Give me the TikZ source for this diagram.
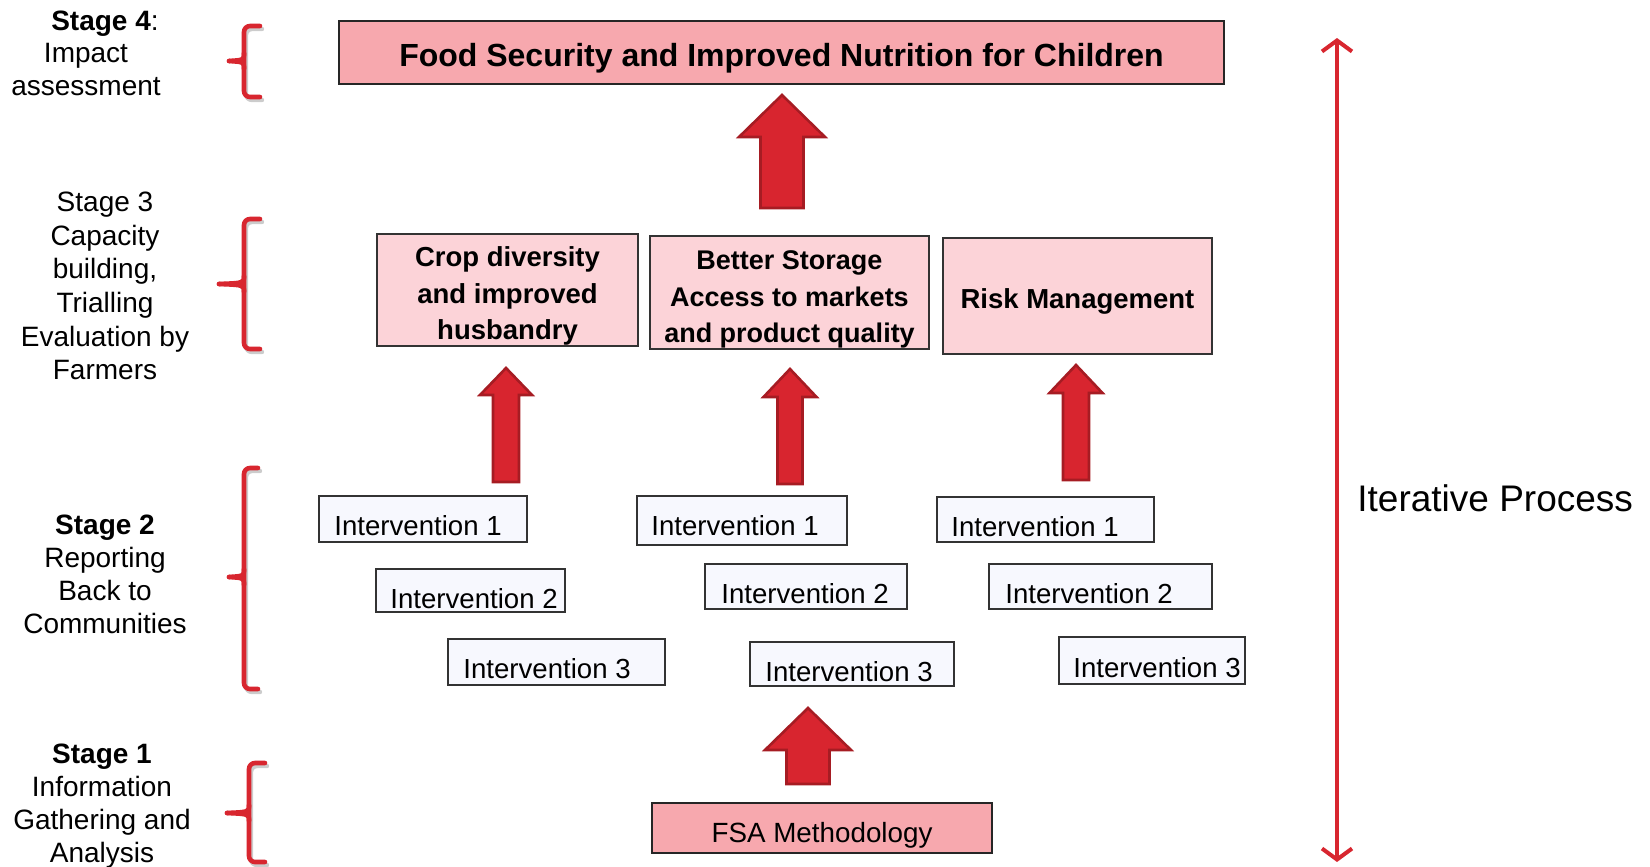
\documentclass[tikz,border=0pt]{standalone}
\usepackage{fontspec}
\setmainfont{Liberation Sans}
\usetikzlibrary{arrows.meta,calc,fit}

\definecolor{titlepink}{HTML}{F7A8AE}
\definecolor{lightpink}{HTML}{FCD3D8}
\definecolor{intfill}{HTML}{F7F8FE}
\definecolor{arrowred}{HTML}{D8252F}
\definecolor{arrowdark}{HTML}{A61C23}
\definecolor{bracered}{HTML}{D8262F}

\tikzset{
  stagelbl/.style={align=center, inner sep=0pt, font=\fontsize{14pt}{16.5pt}\selectfont},
  goalbox/.style={draw=black!85, line width=0.8pt, fill=titlepink, inner sep=0pt},
  fsabox/.style={draw=black!85, line width=0.8pt, fill=titlepink, inner sep=0pt},
  outcomebox/.style={draw=black!80, line width=0.7pt, fill=lightpink, inner sep=0pt},
  intbox/.style={draw=black!80, line width=0.6pt, fill=intfill, inner sep=0pt},
  inttext/.style={inner sep=0pt, anchor=base west, font=\fontsize{13.8pt}{16pt}\selectfont},
  outcometext/.style={align=center, inner sep=0pt, font=\bfseries\fontsize{13.75pt}{18.4pt}\selectfont},
  bracestyle/.style={draw=bracered, line width=2.3pt, line cap=round, line join=round, rounded corners=3pt},
  braceshadow/.style={draw=black!20, line width=2.2pt, line cap=round, line join=round, rounded corners=3pt},
  blockarrow/.style={fill=arrowred, draw=arrowdark, line width=1.3pt, line join=miter},
  iterline/.style={draw=bracered, line width=2pt,
    {Straight Barb[length=5.5pt,width=15pt,line width=2pt]}-{Straight Barb[length=5.5pt,width=15pt,line width=2pt]}}
}

% curly stage bracket: left tip x, spine x, serif x, top y, tip y, bottom y
\newcommand\stagebrace[6]{%
  \draw[braceshadow] (#3+2,#4+3) -- (#2+2,#4+3) -- (#2+2,#6+3) -- (#3+2,#6+3);
  \draw[bracestyle] (#3,#4) -- (#2,#4) -- (#2,#6) -- (#3,#6);
  \draw[bracestyle, rounded corners=0pt] (#2,#5-8) .. controls (#2,#5-1) .. (#1,#5);
  \draw[bracestyle, rounded corners=0pt] (#2,#5+8) .. controls (#2,#5+1) .. (#1,#5);
}
% upward block arrow: centre x, tip y, head base y, head half width, shaft half width, bottom y
\newcommand\blockup[6]{%
  \draw[blockarrow] (#1,#2) -- (#1+#4,#3) -- (#1+#5,#3) -- (#1+#5,#6)
    -- (#1-#5,#6) -- (#1-#5,#3) -- (#1-#4,#3) -- cycle;
}

\begin{document}
\begin{tikzpicture}[x=0.5pt, y=-0.5pt]
\useasboundingbox (0,0) rectangle (1650,867);

% stage labels
\node[stagelbl, font=\fontsize{14pt}{16.25pt}\selectfont] (s4) at (86,53)
  {\hspace*{19pt}\textbf{Stage 4}:\\Impact\\assessment};
\node[stagelbl, font=\fontsize{14pt}{16.8pt}\selectfont] (s3) at (105,286)
  {Stage 3\\Capacity\\building,\\Trialling\\Evaluation by\\Farmers};
\node[stagelbl] (s2) at (105,574)
  {\textbf{Stage 2}\\Reporting\\Back to\\Communities};
\node[stagelbl] (s1) at (102,806)
  {\textbf{Stage 1}\\Information\\Gathering and\\Analysis};

% brackets
\stagebrace{229}{244}{260}{26}{61}{97}
\stagebrace{219}{244}{260}{219}{284}{349}
\stagebrace{229}{244}{258}{468}{577}{689}
\stagebrace{227}{249}{265}{763}{813}{862}

% goal
\node[goalbox, fit={(339,21) (1224,84)}] (goal) {};
\node[inner sep=0pt, font=\bfseries\fontsize{16pt}{19pt}\selectfont] (goaltext) at ($(goal.center)+(0,6)$)
  {Food Security and Improved Nutrition for Children};

% outcomes
\node[outcomebox, fit={(377,234) (638,346)}] (crop) {};
\node[outcometext] (croptext) at ($(crop.center)+(0,6)$) {Crop diversity\\and improved\\husbandry};
\node[outcomebox, fit={(650,236) (929,349)}] (store) {};
\node[outcometext, font=\bfseries\fontsize{13.5pt}{18.2pt}\selectfont] (storetext) at ($(store.center)+(0,7)$)
  {Better Storage\\Access to markets\\and product quality};
\node[outcomebox, fit={(943,238) (1212,354)}] (risk) {};
\node[outcometext] (risktext) at ($(risk.center)+(0,5)$) {Risk Management};

% interventions, first column
\node[intbox, fit={(319,496) (527,542)}] (a1) {};
\node[inttext] (a1t) at (334,535) {Intervention 1};
\node[intbox, fit={(376,569) (565,612)}] (a2) {};
\node[inttext] (a2t) at (390,608) {Intervention 2};
\node[intbox, fit={(448,639) (665,685)}] (a3) {};
\node[inttext] (a3t) at (463,678) {Intervention 3};
% second column
\node[intbox, fit={(637,496) (847,545)}] (b1) {};
\node[inttext] (b1t) at (651,535) {Intervention 1};
\node[intbox, fit={(705,564) (907,609)}] (b2) {};
\node[inttext] (b2t) at (721,603) {Intervention 2};
\node[intbox, fit={(750,642) (954,686)}] (b3) {};
\node[inttext] (b3t) at (765,681) {Intervention 3};
% third column
\node[intbox, fit={(937,497) (1154,542)}] (c1) {};
\node[inttext] (c1t) at (951,536) {Intervention 1};
\node[intbox, fit={(989,564) (1212,609)}] (c2) {};
\node[inttext] (c2t) at (1005,603) {Intervention 2};
\node[intbox, fit={(1059,637) (1245,684)}] (c3) {};
\node[inttext] (c3t) at (1073,677) {Intervention 3};

% methodology
\node[fsabox, fit={(652,803) (992,853)}] (fsa) {};
\node[inner sep=0pt, font=\fontsize{13.9pt}{16pt}\selectfont] (fsatext) at ($(fsa.center)+(0,7)$) {FSA Methodology};

% block arrows
\blockup{782}{95}{137}{43}{21.5}{208}
\blockup{506}{368}{395}{26}{13}{482}
\blockup{790}{369}{397}{26.5}{12.5}{484}
\blockup{1076}{365}{393}{26.5}{13}{480}
\blockup{808}{708}{750}{43}{21.5}{784}

% iteration
\coordinate (itop) at (1337,38);
\coordinate (ibot) at (1337,862);
\draw[iterline] (ibot) -- (itop);
\node[inner sep=0pt, anchor=west, font=\fontsize{18.5pt}{21pt}\selectfont] (iter) at (1357,498) {Iterative Process};

\end{tikzpicture}
\end{document}
